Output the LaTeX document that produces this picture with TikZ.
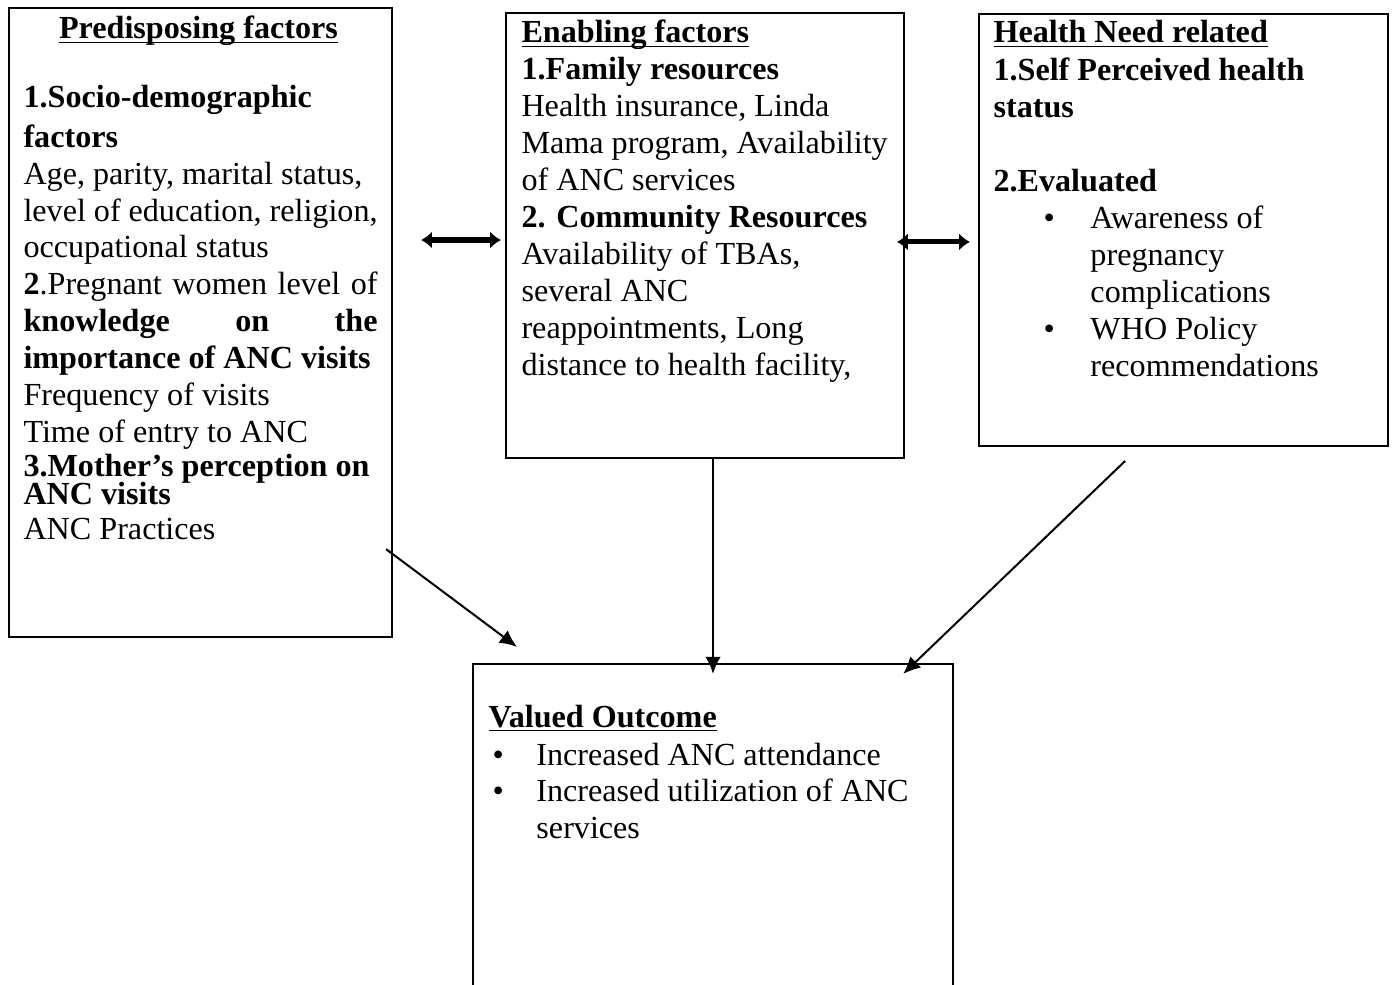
\documentclass[tikz,border=0pt]{standalone}
\usepackage{fontspec}
\setmainfont{Liberation Serif}
\usetikzlibrary{arrows.meta,positioning,fit}
\tikzset{
  boite/.style={rectangle, draw=black, line width=0.8pt, inner sep=0pt},
  texte/.style={anchor=base west, inner sep=0pt, align=flush left, font=\fontsize{12}{13.8}\selectfont},
  dbl/.style={{Latex[length=4pt,width=6.4pt]}-{Latex[length=4pt,width=6.4pt]}, line width=1.9pt},
  arr/.style={-{Latex[length=6.4pt,width=5.8pt]}, line width=0.75pt},
}
\newcommand{\titre}[1]{\underline{\smash{\textbf{#1}}}}
\newcommand{\puce}[2]{\hspace*{#1}\makebox[#2][l]{\textbullet}}

\begin{document}
\begin{tikzpicture}[x=0.3734pt, y=-0.3734pt]
  \clip (0,0) rectangle (1393,985);
  % boxes
  \node[boite, fit={(9,8) (392,637)}] (pre) {};
  \node[boite, fit={(506,13) (904,458)}] (ena) {};
  \node[boite, fit={(979,14) (1388,446)}] (hlth) {};
  \node[boite, fit={(473,664) (953,1010)}] (out) {};

  % predisposing
  \node[texte, anchor=base] (preT) at (198.5,39) {\titre{Predisposing factors}};
  \node[texte, text width=132.2pt] (preB) at (23,108) {%
    \textbf{1.Socio-demographic}\\[0.8pt]
    \textbf{factors}\\
    Age, parity, marital status,\\
    level of education, religion,\\
    occupational status\\
    \textbf{2}.Pregnant\hfill women\hfill level\hfill of\\
    \textbf{knowledge\hfill on\hfill the}\\
    \textbf{importance of ANC visits}\\
    Frequency of visits\\
    Time of entry to ANC\\[-1.1pt]
    \textbf{3.Mother's perception on}\\[-3.3pt]
    \textbf{ANC visits}\\[-0.7pt]
    ANC Practices};

  % enabling
  \node[texte] (enaT) at (521,43) {\titre{Enabling factors}};
  \node[texte, text width=141.9pt] (enaB) at (521,80) {%
    \textbf{1.Family resources}\\
    Health insurance, Linda\\
    Mama program, Availability\\
    of ANC services\\
    \textbf{2. Community Resources}\\
    Availability of TBAs,\\
    several ANC\\
    reappointments, Long\\
    distance to health facility,};

  % health need
  \node[texte] (hlthT) at (993,43) {\titre{Health Need related}};
  \node[texte, text width=141.9pt] (hlthB) at (993,81) {%
    \textbf{1.Self Perceived health}\\
    \textbf{status}\\[13.8pt]
    \textbf{2.Evaluated}\\
    \puce{18.7pt}{17.5pt}Awareness of\\
    \hspace*{36.2pt}pregnancy\\
    \hspace*{36.2pt}complications\\
    \puce{18.7pt}{17.5pt}WHO Policy\\
    \hspace*{36.2pt}recommendations};

  % outcome
  \node[texte] (outT) at (488,727) {\titre{Valued Outcome}};
  \node[texte, text width=164pt] (outB) at (488,765) {%
    \puce{1.5pt}{16.4pt}Increased ANC attendance\\
    \puce{1.5pt}{16.4pt}Increased utilization of ANC\\
    \hspace*{17.9pt}services};

  % connectors
  \coordinate (g1) at ([xshift=10.5pt,yshift=30.8pt]pre.east);
  \draw[dbl, shorten >=1.5pt] (g1) -- (g1 -| ena.west);
  \coordinate (g2) at ([xshift=-3pt,yshift=-2.4pt]ena.east);
  \draw[dbl, shorten >=3pt] (g2) -- (g2 -| hlth.west);
  \draw[arr] ([xshift=-2.6pt,yshift=33.2pt]pre.south east) -- ([xshift=16.8pt,yshift=6pt]out.north west);
  \draw[arr] (ena.south -| out.north) -- ([yshift=-4.1pt]out.north);
  \draw[arr] ([xshift=-21.8pt,yshift=-5.2pt]hlth.south) -- ([xshift=-19pt,yshift=-4.1pt]out.north east);
\end{tikzpicture}
\end{document}
